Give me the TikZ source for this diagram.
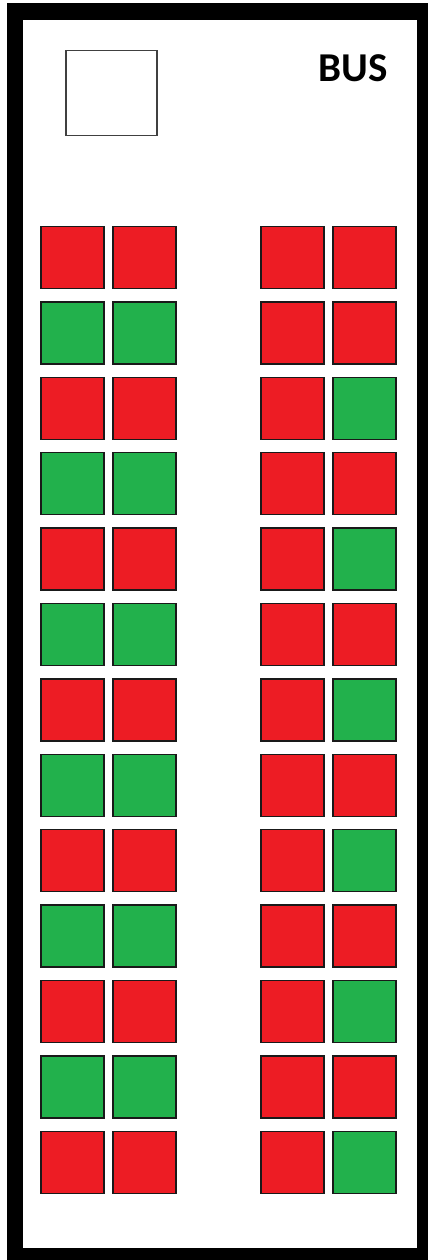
\documentclass[tikz,border=0pt]{standalone}
\usepackage{fontspec}
\newfontfamily\busfont{Carlito}
\definecolor{seatred}{HTML}{ED1C24}
\definecolor{seatgreen}{HTML}{22B14C}
\definecolor{boxgray}{HTML}{404040}
\begin{document}
\begin{tikzpicture}[x=1pt,y=-1pt,
  seat/.style={draw=black!90,line width=1.5pt,minimum width=63pt,minimum height=62pt,inner sep=0pt,outer sep=0pt,anchor=north west},
  redseat/.style={seat,fill=seatred},
  greenseat/.style={seat,fill=seatgreen},
  label/.style={font=\busfont\bfseries\fontsize{41}{41}\selectfont,inner sep=0pt}]
\useasboundingbox (0,0) rectangle (428,1260);
\fill[white] (0,0) rectangle (428,1260);
\fill[black] (7,3) rectangle (440,1262);
\fill[white] (23,20) rectangle (417,1248);
\node[draw=boxgray,line width=1.5pt,minimum width=91pt,minimum height=85pt,inner sep=0pt,anchor=north west] (screen) at (65,50) {};
\node[label,anchor=base] (bus) at (353,82) {BUS};
\foreach \r in {0,...,12}{
  \pgfmathsetmacro{\y}{226.5+75.4*\r}
  \pgfmathtruncatemacro{\odd}{mod(\r,2)}
  \ifnum\odd=0
    \node[redseat] (a\r) at (41,\y) {};
    \node[redseat] (b\r) at (113,\y) {};
  \else
    \node[greenseat] (a\r) at (41,\y) {};
    \node[greenseat] (b\r) at (113,\y) {};
  \fi
  \node[redseat] (c\r) at (261,\y) {};
  \ifnum\r=0
    \node[redseat] (d\r) at (333,\y) {};
  \else
    \ifnum\odd=0
      \node[greenseat] (d\r) at (333,\y) {};
    \else
      \node[redseat] (d\r) at (333,\y) {};
    \fi
  \fi
}
\end{tikzpicture}
\end{document}
